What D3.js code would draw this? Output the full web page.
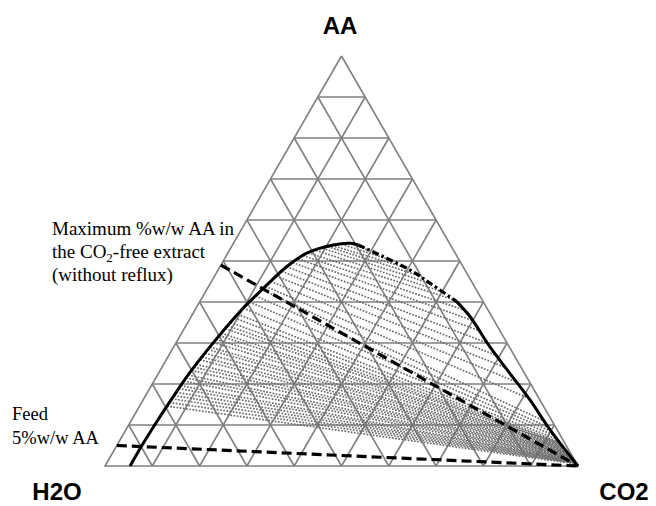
<!DOCTYPE html>
<html>
<head>
<meta charset="utf-8">
<script src="https://cdn.jsdelivr.net/npm/d3@7"></script>
<style>
  body { margin: 0; background: #fff; }
  svg { display: block; }
</style>
</head>
<body>
<div id="chart"></div>
<script>
// corner labels of the ternary diagram (top, left, right)
const vertexLabels = ['AA', 'H2O', 'CO2'];
// grid every 10 %w/w
const gridTicks = [10, 20, 30, 40, 50, 60, 70, 80, 90];

// binodal curve, [AA, CO2] in %w/w (H2O = rest)
const binodalLeft = [[0, 5.3], [5, 5.3], [10, 5.5], [16, 5.9], [22.6, 6.5], [30.7, 8.0], [38, 9.8],
  [43.3, 11.8], [48.6, 14.1], [51.9, 16.7], [53.9, 21.3], [54.3, 24.7], [53.9, 26.6]];
const binodalDashDot = [[53.9, 26.6], [47.8, 40.6], [44.6, 46.4], [40.1, 54.3]];
const binodalRight = [[40.1, 54.3], [36.4, 59.0], [29.1, 66.8], [22.6, 74.3], [16.1, 81.8], [8.8, 89.7], [0, 100]];

// tie lines: AA in raffinate phase -> AA in extract phase
const tieRaffinateAA = [54.3, 54.1, 53.8, 53.5, 53.1, 52.6, 52.0, 51.3, 50.5, 49.6, 48.6, 47.5,
  46.3, 45.0, 43.8, 43.0, 41.5, 40.0, 38.5, 37.0,
  36.1, 35.0, 34.2, 33.5, 32.4, 31.8, 30.9, 30.1, 29.0, 28.4, 27.5, 26.6, 25.9, 24.8,
  24.1, 23.3, 22.2, 21.5, 20.7, 19.6, 18.9, 18.0, 17.2, 16.4, 15.5, 14.6];
const tieExtractAA = [52.5, 50.5, 48.5, 46.5, 44.5, 42.5, 40.5, 38.0, 35.5, 33.0, 30.0, 27.0,
  24.0, 20.5, 16.5, 11.0, 9.5, 8.5, 7.5, 6.5,
  5.8, 5.5, 5.2, 5.0, 4.7, 4.4, 4.2, 3.9, 3.7, 3.4, 3.2, 3.0, 2.8, 2.6,
  2.4, 2.2, 2.0, 1.8, 1.6, 1.4, 1.3, 1.1, 1.0, 0.8, 0.7, 0.5];

// dashed operating lines, [AA, CO2] start -> end
const maxExtractLine = [[49, 0], [0, 100]];
const feedLine = [[5, 0], [0, 100]];

const width = 656, height = 506;
const svg = d3.select('#chart').append('svg')
  .attr('width', width)
  .attr('height', height)
  .style('background', '#fff');

// ternary -> screen through two linear scales
const x = d3.scaleLinear().domain([0, 100]).range([105, 578]);
const y = d3.scaleLinear().domain([0, 100]).range([466, 56]);
const px = d => x(d[1] + d[0] / 2);
const py = d => y(d[0]);

const gray = '#808080';

// grid + frame
const gGrid = svg.append('g').attr('stroke', gray).attr('stroke-width', 1.6).attr('fill', 'none');
const gridSegs = [];
gridTicks.forEach(t => {
  gridSegs.push([[t, 0], [t, 100 - t]]);          // const AA
  gridSegs.push([[0, t], [100 - t, t]]);          // const CO2
  gridSegs.push([[0, 100 - t], [100 - t, 0]]);    // const H2O
});
gGrid.selectAll('line').data(gridSegs).join('line')
  .attr('x1', d => px(d[0])).attr('y1', d => py(d[0]))
  .attr('x2', d => px(d[1])).attr('y2', d => py(d[1]));
gGrid.append('path')
  .attr('d', d3.line().x(px).y(py)([[100, 0], [0, 0], [0, 100], [100, 0]]))
  .attr('stroke-linejoin', 'miter');

// find a point on a branch at given AA (linear between read points)
function onBranch(branch, aa) {
  for (let i = 0; i < branch.length - 1; i++) {
    const a = branch[i], b = branch[i + 1];
    const lo = Math.min(a[0], b[0]), hi = Math.max(a[0], b[0]);
    if (aa >= lo && aa <= hi && hi > lo) {
      const k = (aa - a[0]) / (b[0] - a[0]);
      return [aa, a[1] + k * (b[1] - a[1])];
    }
  }
  return branch[branch.length - 1];
}
const raffBranch = binodalLeft.slice(0, 12);
const extrBranch = [binodalLeft[11]].concat(binodalDashDot, binodalRight.slice(1));

const ties = tieRaffinateAA.map((r, i) => [onBranch(raffBranch, r), onBranch(extrBranch, tieExtractAA[i])]);
svg.append('g').selectAll('line').data(ties).join('line')
  .attr('x1', d => px(d[0])).attr('y1', d => py(d[0]))
  .attr('x2', d => px(d[1])).attr('y2', d => py(d[1]))
  .attr('stroke', '#6a6a6a')
  .attr('stroke-width', 1.7)
  .attr('stroke-dasharray', '1.7,1.5');

// binodal
const curve = d3.line().x(px).y(py).curve(d3.curveCatmullRom.alpha(0.5));
svg.append('path').attr('d', curve(binodalLeft))
  .attr('fill', 'none').attr('stroke', '#000').attr('stroke-width', 3);
svg.append('path').attr('d', curve(binodalDashDot))
  .attr('fill', 'none').attr('stroke', '#000').attr('stroke-width', 3.2)
  .attr('stroke-dasharray', '7,3,2.5,3');
svg.append('path').attr('d', curve(binodalRight))
  .attr('fill', 'none').attr('stroke', '#000').attr('stroke-width', 3);

// dashed lines
const straight = d3.line().x(px).y(py);
[maxExtractLine, feedLine].forEach(l => {
  svg.append('path').attr('d', straight(l))
    .attr('fill', 'none').attr('stroke', '#000').attr('stroke-width', 3.2)
    .attr('stroke-dasharray', '10,5');
});

// corner labels
const labelPos = [[340, 34], [57, 500], [624, 500]];
svg.selectAll('text.vertex').data(vertexLabels).join('text')
  .attr('class', 'vertex')
  .attr('x', (d, i) => labelPos[i][0])
  .attr('y', (d, i) => labelPos[i][1])
  .attr('text-anchor', 'middle')
  .style('font-family', '"Liberation Sans", Arial, sans-serif')
  .style('font-weight', 'bold')
  .style('font-size', '24px')
  .text(d => d);

// annotations
const serif = '"Liberation Serif", "Times New Roman", serif';
const note = svg.append('text')
  .style('font-family', serif).style('font-size', '19px');
note.append('tspan').attr('x', 52).attr('y', 235).text('Maximum %w/w AA in');
const l2 = note.append('tspan').attr('x', 52).attr('y', 258).text('the CO');
l2.append('tspan').attr('dy', 4).style('font-size', '13px').text('2');
l2.append('tspan').attr('dy', -4).text('-free extract');
note.append('tspan').attr('x', 52).attr('y', 281).text('(without reflux)');

const feed = svg.append('text')
  .style('font-family', serif).style('font-size', '18.5px');
feed.append('tspan').attr('x', 12).attr('y', 420).text('Feed');
feed.append('tspan').attr('x', 12).attr('y', 444).text('5%w/w AA');
</script>
</body>
</html>
